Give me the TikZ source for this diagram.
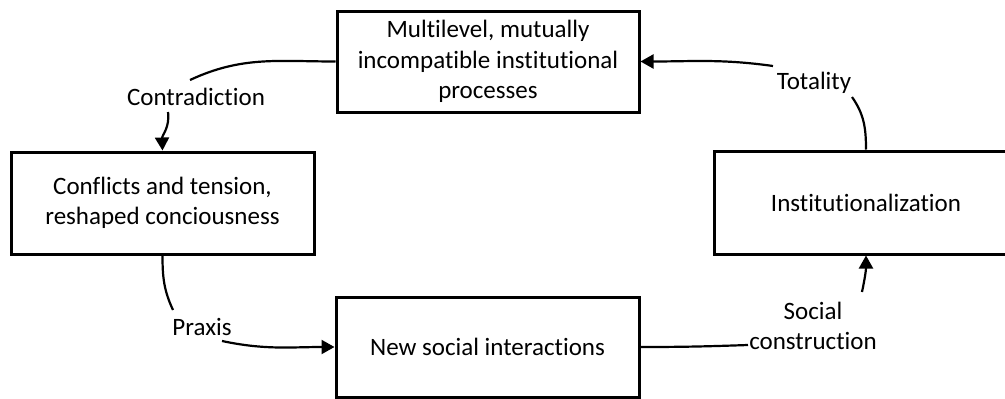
\documentclass[tikz,border=0pt]{standalone}
\usepackage{fontspec}
\setmainfont{Carlito}[Ligatures=NoCommon]
\usetikzlibrary{arrows.meta}
\begin{document}
\begin{tikzpicture}[x=1pt,y=-1pt,
  box/.style={draw, line width=3pt, align=center, inner sep=2pt,
    font=\fontsize{25}{30.5}\selectfont},
  lbl/.style={align=center, inner sep=0pt, font=\fontsize{25}{30.5}\selectfont},
  conn/.style={line width=2.2pt},
  arr/.style={conn, -{Triangle[length=13pt,width=14pt]}}]
\useasboundingbox (0,0) rectangle (1005,399);
\begin{scope}
\clip (0,0) rectangle (1005,399);
\node[box, minimum width=302pt, minimum height=101pt] (top) at (488,61.5)
  {Multilevel, mutually\\incompatible institutional\\processes};
\node[box, minimum width=303pt, minimum height=102pt] (left) at (162.5,203)
  {Conflicts and tension,\\reshaped conciousness};
\node[box, minimum width=304pt, minimum height=103pt] (right) at (866,202.5)
  {Institutionalization};
\node[box, minimum width=303pt, minimum height=100pt] (bottom) at (487.5,347)
  {New social interactions};
\end{scope}

\node[lbl] (contr) at (196,97) {Contradiction};
\node[lbl] (total) at (814,83) {Totality};
\node[lbl] (praxis) at (202,327) {Praxis};
\node[lbl] (social) at (813,326) {Social\\construction};

\coordinate (c1a) at (190,80);
\coordinate (c1b) at (168,112);
\coordinate (c2a) at (852,97);
\coordinate (c2b) at (773,66);
\coordinate (c3a) at (173,310);
\coordinate (c3b) at (222,341);
\coordinate (c4a) at (748,345);
\coordinate (c4b) at (862,292);

\draw[conn] (top.west) to[out=180,in=25] (c1a);
\draw[arr] (c1b) to[out=-82,in=92] (left.north);

\draw[conn] (right.north) to[out=90,in=-55] (c2a);
\draw[arr] (c2b) to[out=172,in=0] (top.east);

\draw[conn] (left.south) to[out=-90,in=115] (c3a);
\draw[arr] (c3b) to[out=-12,in=180] (bottom.west);

\draw[conn] (bottom.east) to[out=0,in=182] (c4a);
\draw[arr] (c4b) to[out=78,in=-90] (right.south);
\end{tikzpicture}
\end{document}
